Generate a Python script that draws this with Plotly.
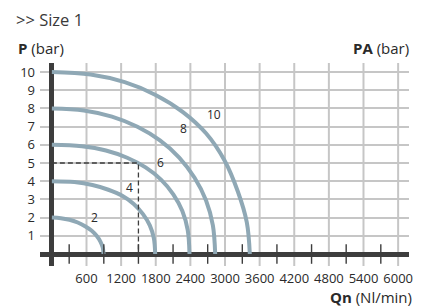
import plotly.graph_objects as go

# ---- data ----
x_tick_vals = [600, 1200, 1800, 2400, 3000, 3600, 4200, 4800, 5400, 6000]
x_tick_text = ["600", "1200", "1800", "2400", "3000", "3600", "4200", "4800", "5400", "6000"]
x_grid_vals = [0] + x_tick_vals
x_minor_ticks = [300, 900, 1500, 2100, 2700, 3300, 3900, 4500, 5100, 5700]
y_tick_vals = [0, 1, 2, 3, 4, 5, 6, 7, 8, 9, 10]
y_tick_text = ["", "1", "2", "3", "4", "5", "6", "7", "8", "9", "10"]

curve_labels = ["2", "4", "6", "8", "10"]
curve2_q = [0, 156, 306, 448, 575, 686, 775, 841, 882, 895]
curve2_p = [2.0, 1.97, 1.88, 1.73, 1.53, 1.29, 1.0, 0.68, 0.35, 0.0]
curve4_q = [0, 390, 703, 979, 1219, 1419, 1579, 1697, 1767, 1790]
curve4_p = [4.0, 3.95, 3.79, 3.53, 3.2, 2.75, 2.19, 1.57, 0.87, 0.0]
curve6_q = [0, 520, 937, 1305, 1624, 1891, 2104, 2261, 2354, 2385]
curve6_p = [6.0, 5.92, 5.69, 5.29, 4.76, 4.09, 3.28, 2.36, 1.31, 0.0]
curve8_q = [0, 555, 1041, 1483, 1873, 2207, 2473, 2672, 2790, 2830]
curve8_p = [8.0, 7.89, 7.55, 6.99, 6.24, 5.3, 4.19, 2.94, 1.57, 0.0]
curve10_q = [0, 672, 1262, 1797, 2271, 2675, 2990, 3224, 3378, 3430]
curve10_p = [10.0, 9.86, 9.44, 8.74, 7.8, 6.62, 5.15, 3.42, 1.74, 0.0]
label_q = [740, 1350, 1880, 2280, 2810]
label_p = [1.98, 3.63, 5.05, 6.92, 7.64]

example_q = 1500
example_p = 5

curves = [
    (curve2_q, curve2_p),
    (curve4_q, curve4_p),
    (curve6_q, curve6_p),
    (curve8_q, curve8_p),
    (curve10_q, curve10_p),
]

CURVE = "#8fa8b5"
GRID = "#c6c6c6"
AXIS = "#3d3d3d"
TXT = "#2a2a2a"
FONT = "Open Sans"

fig = go.Figure()

for q, p in curves:
    fig.add_trace(go.Scatter(
        x=q, y=p, mode="lines",
        line=dict(color=CURVE, width=4, shape="spline", smoothing=1.0),
        hoverinfo="skip", showlegend=False, cliponaxis=False,
    ))

# dashed example lines
fig.add_trace(go.Scatter(
    x=[0, example_q, example_q], y=[example_p, example_p, 0], mode="lines",
    line=dict(color=AXIS, width=1.3, dash="5px,3px"),
    hoverinfo="skip", showlegend=False,
))

# minor tick marks across the Q axis
fig.add_trace(go.Scatter(
    x=x_minor_ticks, y=[0] * len(x_minor_ticks), mode="markers",
    marker=dict(symbol="line-ns", size=14, line=dict(color=AXIS, width=1.4)),
    hoverinfo="skip", showlegend=False, cliponaxis=False,
))

for lab, q, p in zip(curve_labels, label_q, label_p):
    fig.add_annotation(x=q, y=p, text=lab, showarrow=False,
                       font=dict(family=FONT, size=12, color=TXT))

# page has an 8px body margin, so the figure is 8px smaller and offset
L, R, T, B = 29, 15, 55, 41
x_range = [(37 - 49) * 600 / 35, (410 - 49) * 600 / 35]
y_range = [(254 - 266) / 18.2, (254 - 63) / 18.2]

fig.update_layout(
    width=417, height=299,
    margin=dict(l=L, r=R, t=T, b=B),
    paper_bgcolor="white", plot_bgcolor="white",
    font=dict(family=FONT, color=TXT, size=13),
    xaxis=dict(
        range=x_range, showline=False,
        tickmode="array", tickvals=x_tick_vals, ticktext=x_tick_text,
        showgrid=False, zeroline=True, zerolinecolor=AXIS, zerolinewidth=4.5,
        tickfont=dict(family=FONT, size=13, color=TXT), ticks="",
        ticklabelstandoff=3,
    ),
    yaxis=dict(
        range=y_range, showline=False,
        tickmode="array", tickvals=y_tick_vals, ticktext=y_tick_text,
        showgrid=True, gridcolor=GRID, gridwidth=2,
        zeroline=True, zerolinecolor=AXIS, zerolinewidth=4.5,
        tickfont=dict(family=FONT, size=13, color=TXT), ticks="",
        ticklabelstandoff=4,
    ),
)

for xv in x_grid_vals:
    fig.add_shape(type="line", xref="x", yref="paper", x0=xv, x1=xv, y0=0, y1=1,
                  line=dict(color=GRID, width=2), layer="below")

fig.add_annotation(x=(25 - 49) * 600 / 35, y=-0.06, xref="x", yref="paper",
                   text="0", showarrow=False, font=dict(family=FONT, size=13, color=TXT))
fig.add_annotation(x=(12 - 37) / 373, y=(266 - 19) / 203, xref="paper", yref="paper",
                   xanchor="left", yanchor="middle", text="&gt;&gt; Size 1", showarrow=False,
                   font=dict(family=FONT, size=16.5, color="#3a3a3a"), borderpad=0)
fig.add_annotation(x=(13 - 37) / 373, y=(266 - 48) / 203, xref="paper", yref="paper",
                   xanchor="left", yanchor="middle", text="<b>P</b> (bar)", showarrow=False,
                   font=dict(family=FONT, size=15, color=TXT))
fig.add_annotation(x=(412 - 37) / 373, y=(266 - 48) / 203, xref="paper", yref="paper",
                   xanchor="right", yanchor="middle", text="<b>PA</b> (bar)", showarrow=False,
                   font=dict(family=FONT, size=15, color=TXT))
fig.add_annotation(x=(415 - 37) / 373, y=(266 - 297) / 203, xref="paper", yref="paper",
                   xanchor="right", yanchor="middle", text="<b>Qn</b> (Nl/min)", showarrow=False,
                   font=dict(family=FONT, size=15, color=TXT))

fig.write_html("out.html")
